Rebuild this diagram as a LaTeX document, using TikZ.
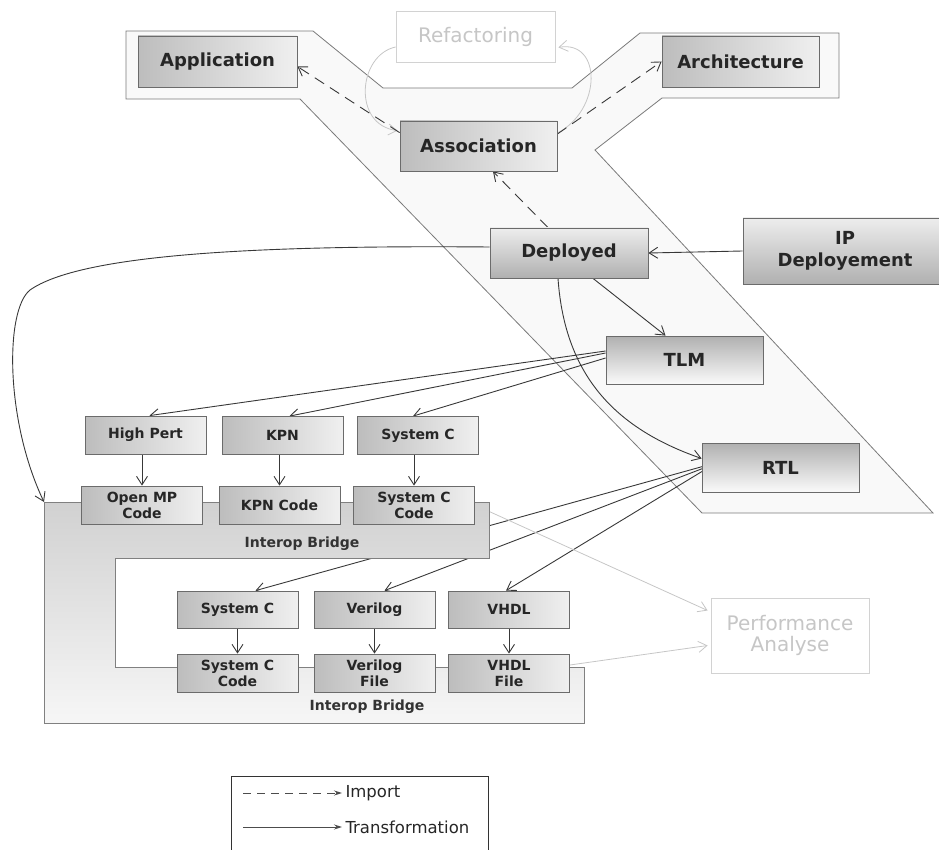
\documentclass[tikz,border=0pt]{standalone}
\usepackage{fontspec}
\setmainfont{DejaVu Sans}
\usetikzlibrary{arrows.meta,calc}
\pgfdeclarelayer{ylayer}
\pgfdeclarelayer{wires}
\pgfdeclarelayer{bridge}
\pgfsetlayers{ylayer,wires,bridge,main}

\begin{document}
\begin{tikzpicture}[x=1pt,y=-1pt,
  tip/.style={-{Straight Barb[length=8.5pt,width=11pt]}},
  ink/.style={draw=black!78, line width=0.9pt},
  imp/.style={ink, tip, dash pattern=on 11pt off 7pt},
  trf/.style={ink, tip},
  faint/.style={draw=gray!45, line width=0.8pt, tip},
  blk/.style={draw=black!58, line width=0.8pt, inner sep=0pt, align=center, text=black!85},
  bigtxt/.style={font=\fontsize{18}{22}\selectfont\bfseries},
  smalltxt/.style={font=\fontsize{14}{16}\selectfont\bfseries},
  hshade/.style={left color=gray!52, right color=gray!12},
  downshade/.style={top color=gray!14, bottom color=gray!62},
  upshade/.style={top color=gray!62, bottom color=gray!4},
  ghost/.style={draw=gray!35, line width=0.8pt, fill=white, text=gray!45,
    inner sep=0pt, align=center, font=\fontsize{20}{21}\selectfont},
  bigbox/.style={blk, bigtxt},
  smallbox/.style={blk, smalltxt, hshade, minimum width=121, minimum height=38},
]
\useasboundingbox (0,0) rectangle (939,850);
\clip (0,0) rectangle (939,850);

% ---------- Y-chart outline ----------
\begin{pgfonlayer}{ylayer}
\path[draw=black!52, line width=0.8pt, fill=gray!5]
  (126,31) -- (313,31) -- (383,88) -- (572,88) -- (640,33) -- (839,33)
  -- (839,98) -- (662,98) -- (595,150) -- (933,513) -- (702,513)
  -- (300,99) -- (126,99) -- cycle;
\end{pgfonlayer}

% ---------- interop bridge ----------
\begin{pgfonlayer}{bridge}
\path[draw=black!50, line width=0.8pt, top color=gray!36, bottom color=gray!7]
  (44,502) -- (489,502) -- (489,558) -- (115,558) -- (115,667)
  -- (584,667) -- (584,723) -- (44,723) -- cycle;
\coordinate (bridgeTL) at (44,502);
\node[smalltxt, text=black!80] (ib1) at (302,544) {Interop Bridge};
\node[smalltxt, text=black!80] (ib2) at (367,707) {Interop Bridge};
\end{pgfonlayer}

% ---------- model levels ----------
\node[bigbox, hshade, minimum width=159, minimum height=51] (app) at (217.5,61.5) {Application};
\node[ghost, minimum width=159, minimum height=51] (refa) at (475.5,36.5) {Refactoring};
\node[bigbox, hshade, minimum width=157, minimum height=50] (assoc) at (478.5,146) {Association};
\node[bigbox, hshade, minimum width=157, minimum height=51] (arch) at (740.5,61.5) {Architecture};
\node[bigbox, downshade, minimum width=158, minimum height=50] (dep) at (569,253) {Deployed};
\node[bigbox, downshade, minimum width=204, minimum height=66] (ipd) at (845,251) {IP\\Deployement};
\node[bigbox, upshade, minimum width=157, minimum height=48] (tlm) at (684.5,360) {TLM};
\node[bigbox, upshade, minimum width=157, minimum height=49] (rtl) at (780.5,467.5) {RTL};
\node[ghost, minimum width=158, minimum height=75] (perf) at (790,635.5) {Performance\\Analyse};

% ---------- TLM targets ----------
\node[smallbox] (hp) at (145.5,435) {High Pert};
\node[smallbox] (kpn) at (282.5,435.5) {KPN};
\node[smallbox] (sc1) at (418,435.5) {System C};
\node[smallbox] (omp) at (142,505) {Open MP\\Code};
\node[smallbox] (kpnc) at (279.5,505) {KPN Code};
\node[smallbox] (scc1) at (414,505) {System C\\Code};

% ---------- RTL targets ----------
\node[smallbox, minimum height=37] (sc2) at (237.5,609.5) {System C};
\node[smallbox, minimum height=37] (ver) at (374.5,609.5) {Verilog};
\node[smallbox, minimum height=37] (vhd) at (509,609.5) {VHDL};
\node[smallbox] (scc2) at (237.5,673) {System C\\Code};
\node[smallbox] (verf) at (374.5,673) {Verilog\\File};
\node[smallbox] (vhdf) at (509,673) {VHDL\\File};

% ---------- connectors ----------
\begin{pgfonlayer}{wires}
% refactoring loop
\draw[faint] (refa.west |- 0,47) .. controls (358,55) and (352,125) .. ($(assoc.north west)+(-2,10)$);
\draw[faint] ($(assoc.east)+(0,-13)$) .. controls (602,110) and (602,40) .. ($(refa.south east)+(3,-15)$);
% imports
\draw[imp] ($(assoc.north west)+(0,12)$) -- ($(app.east)+(0,5)$);
\draw[imp] ($(assoc.east)+(0,-12)$) -- (arch.west);
\draw[imp] ($(dep.north)+(-21,0)$) -- ($(assoc.south)+(14.5,0)$);
% transformations from the deployed model
\draw[trf] (ipd.west) -- (dep.east);
\draw[trf] ($(dep.south)+(24,0)$) -- ($(tlm.north)+(-19,0)$);
\draw[trf] ($(dep.south)+(-11,0)$) .. controls (565,380) and (620,430) .. ($(rtl.west)+(0,-9)$);
\draw[trf] ($(dep.west)+(0,-6)$) .. controls (250,245) and (80,255) .. (30,290)
  .. controls (5,310) and (5,420) .. (bridgeTL);
% TLM fan-out
\draw[trf] ($(tlm.west)+(0,-9)$) -- ($(hp.north)+(4,0)$);
\draw[trf] ($(tlm.west)+(0,-7)$) -- ($(kpn.north)+(7,0)$);
\draw[trf] ($(tlm.west)+(0,-2)$) -- ($(sc1.north)+(-5,0)$);
% RTL fan-out
\draw[trf] ($(rtl.west)+(1,-1)$) -- ($(sc2.north)+(18,0)$);
\draw[trf] ($(rtl.west)+(1,1)$) -- ($(ver.north)+(10,0)$);
\draw[trf] ($(rtl.west)+(2,3)$) -- ($(vhd.north)+(-3,0)$);
% code generation
\draw[trf] (hp.south -| omp.north) -- (omp.north);
\draw[trf] (kpn.south -| kpnc.north) -- (kpnc.north);
\draw[trf] (sc1.south -| scc1.north) -- (scc1.north);
\draw[trf] (sc2) -- (scc2);
\draw[trf] (ver) -- (verf);
\draw[trf] (vhd) -- (vhdf);
% performance analysis
\draw[faint] (scc1.east) -- ($(perf.west)+(-3,-25)$);
\draw[faint] ($(vhdf.east)+(0,-8)$) -- ($(perf.west)+(-3,10)$);
\end{pgfonlayer}

% ---------- legend ----------
\draw[black!80, line width=1pt] (231,776) rectangle (488,880);
\coordinate (lgA) at (243,793);
\coordinate (lgB) at (243,827);
\node[anchor=west, font=\fontsize{16.5}{20}\selectfont, text=black!85] (lgimp) at (342,793) {Import};
\node[anchor=west, font=\fontsize{16.5}{20}\selectfont, text=black!85] (lgtrf) at (342,827) {Transformation};
\draw[black!70, line width=0.9pt, dash pattern=on 8pt off 6pt, -{Stealth[length=8pt,width=5pt]}] (lgA) -- (lgimp.west);
\draw[black!70, line width=0.9pt, -{Stealth[length=8pt,width=5pt]}] (lgB) -- (lgtrf.west);
\end{tikzpicture}
\end{document}
